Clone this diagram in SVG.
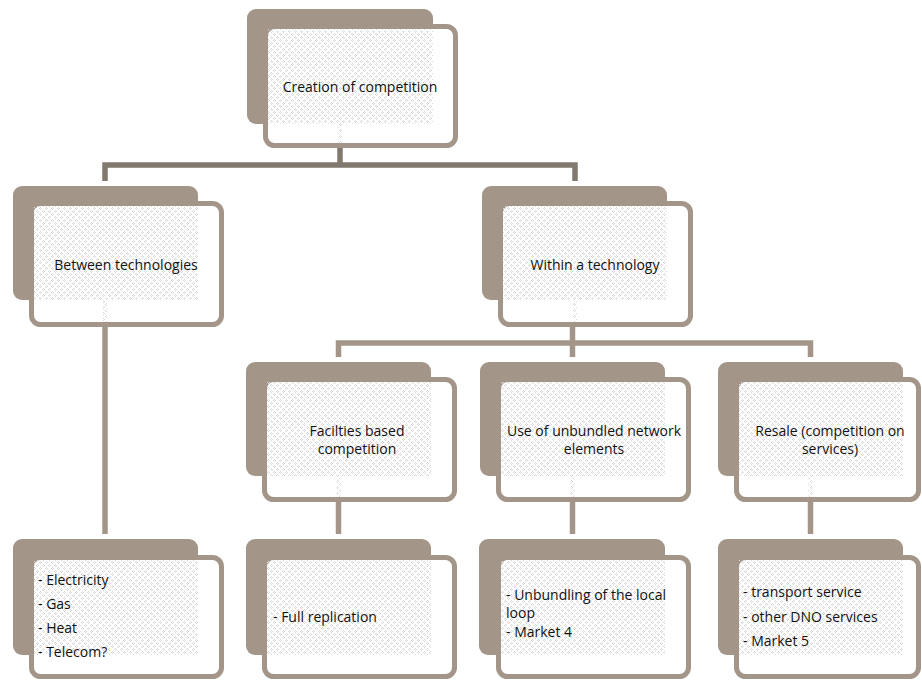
<svg xmlns="http://www.w3.org/2000/svg" width="922" height="680" viewBox="0 0 922 680">
  <defs>
    <!-- fine grey dither used inside each card where it overlaps its shadow -->
    <pattern id="dots" width="6" height="6" patternUnits="userSpaceOnUse">
      <rect x="1" y="0" width="1" height="1" fill="#d8d8d8"/>
      <rect x="0" y="1" width="1" height="1" fill="#d8d8d8"/>
      <rect x="2" y="1" width="1" height="1" fill="#d8d8d8"/>
      <rect x="1" y="2" width="1" height="1" fill="#d8d8d8"/>
      <rect x="4" y="3" width="1" height="1" fill="#d8d8d8"/>
      <rect x="3" y="4" width="1" height="1" fill="#d8d8d8"/>
      <rect x="5" y="4" width="1" height="1" fill="#d8d8d8"/>
      <rect x="4" y="5" width="1" height="1" fill="#d8d8d8"/>
    </pattern>
  </defs>
  <style>
    .back { fill: #a39689; }
    .front { fill: #ffffff; stroke: #a39689; stroke-width: 5; }
    .tex { fill: url(#dots); }
    .link-top { fill: none; stroke: #81786e; stroke-width: 5.5; }
    .link { fill: none; stroke: #a39689; stroke-width: 5.5; }
    text { font-family: "Open Sans", "Liberation Sans", sans-serif; font-size: 14px; fill: #111; }
    .c { text-anchor: middle; }
  </style>

  <rect width="922" height="680" fill="#ffffff"/>

  <g id="connectors">
    <path class="link-top" d="M105,181 V165 H575 V181"/>
    <path class="link-top" d="M340,148 V165"/>
    <path class="link" d="M338.5,357 V343 H810.5 V357"/>
    <path class="link" d="M572.5,327 V357"/>
    <path class="link" d="M105,327 V534"/>
    <path class="link" d="M338.5,502 V534"/>
    <path class="link" d="M572.5,502 V534"/>
    <path class="link" d="M810.5,502 V534"/>
  </g>

  <g id="node-creation">
    <rect class="back" x="247" y="9" width="186" height="115" rx="9"/>
    <rect class="front" x="265.5" y="26.5" width="190" height="119" rx="9"/>
    <rect class="tex" x="268" y="29" width="165" height="95"/>
    <rect class="tex" x="338" y="124" width="4" height="19"/>
    <text class="c" x="360" y="92">Creation of competition</text>
  </g>

  <g id="node-between">
    <rect class="back" x="13" y="186" width="185" height="114" rx="9"/>
    <rect class="front" x="31.5" y="203.5" width="190" height="121" rx="9"/>
    <rect class="tex" x="34" y="206" width="164" height="94"/>
    <rect class="tex" x="103" y="300" width="4" height="22"/>
    <text class="c" x="126" y="270">Between technologies</text>
  </g>

  <g id="node-within">
    <rect class="back" x="482" y="186" width="185" height="114" rx="9"/>
    <rect class="front" x="500.5" y="203.5" width="190" height="121" rx="9"/>
    <rect class="tex" x="503" y="206" width="164" height="94"/>
    <rect class="tex" x="573" y="300" width="4" height="22"/>
    <text class="c" x="595" y="270">Within a technology</text>
  </g>

  <g id="node-facilities">
    <rect class="back" x="246" y="362" width="185" height="114" rx="9"/>
    <rect class="front" x="264.5" y="379.5" width="190" height="120" rx="9"/>
    <rect class="tex" x="267" y="382" width="164" height="94"/>
    <rect class="tex" x="336.5" y="476" width="4" height="21"/>
    <text class="c" x="357" y="436">Facilties based</text>
    <text class="c" x="357" y="454">competition</text>
  </g>

  <g id="node-unbundled">
    <rect class="back" x="480" y="362" width="185" height="114" rx="9"/>
    <rect class="front" x="498.5" y="379.5" width="190" height="120" rx="9"/>
    <rect class="tex" x="501" y="382" width="164" height="94"/>
    <rect class="tex" x="570.5" y="476" width="4" height="21"/>
    <text class="c" x="594" y="436">Use of unbundled network</text>
    <text class="c" x="594" y="454">elements</text>
  </g>

  <g id="node-resale">
    <rect class="back" x="718" y="362" width="185" height="114" rx="9"/>
    <rect class="front" x="736.5" y="379.5" width="182" height="120" rx="9"/>
    <rect class="tex" x="739" y="382" width="164" height="94"/>
    <rect class="tex" x="808.5" y="476" width="4" height="21"/>
    <text class="c" x="830" y="436">Resale (competition on</text>
    <text class="c" x="830" y="454">services)</text>
  </g>

  <g id="node-technologies-list">
    <rect class="back" x="13" y="539" width="185" height="116" rx="9"/>
    <rect class="front" x="31.5" y="557.5" width="190" height="119" rx="9"/>
    <rect class="tex" x="34" y="560" width="164" height="95"/>
    <text x="38" y="585">- Electricity</text>
    <text x="38" y="609">- Gas</text>
    <text x="38" y="633">- Heat</text>
    <text x="38" y="657">- Telecom?</text>
  </g>

  <g id="node-replication">
    <rect class="back" x="246" y="539" width="185" height="116" rx="9"/>
    <rect class="front" x="264.5" y="557.5" width="190" height="119" rx="9"/>
    <rect class="tex" x="267" y="560" width="164" height="95"/>
    <text x="273" y="622">- Full replication</text>
  </g>

  <g id="node-local-loop">
    <rect class="back" x="479" y="539" width="186" height="116" rx="9"/>
    <rect class="front" x="498.5" y="557.5" width="190" height="119" rx="9"/>
    <rect class="tex" x="501" y="560" width="164" height="95"/>
    <text x="506" y="600">- Unbundling of the local</text>
    <text x="506" y="618">loop</text>
    <text x="506" y="637">- Market 4</text>
  </g>

  <g id="node-services">
    <rect class="back" x="718" y="539" width="185" height="116" rx="9"/>
    <rect class="front" x="736.5" y="557.5" width="182" height="119" rx="9"/>
    <rect class="tex" x="739" y="560" width="164" height="95"/>
    <text x="743" y="597">- transport service</text>
    <text x="743" y="622">- other DNO services</text>
    <text x="743" y="646">- Market 5</text>
  </g>
</svg>
